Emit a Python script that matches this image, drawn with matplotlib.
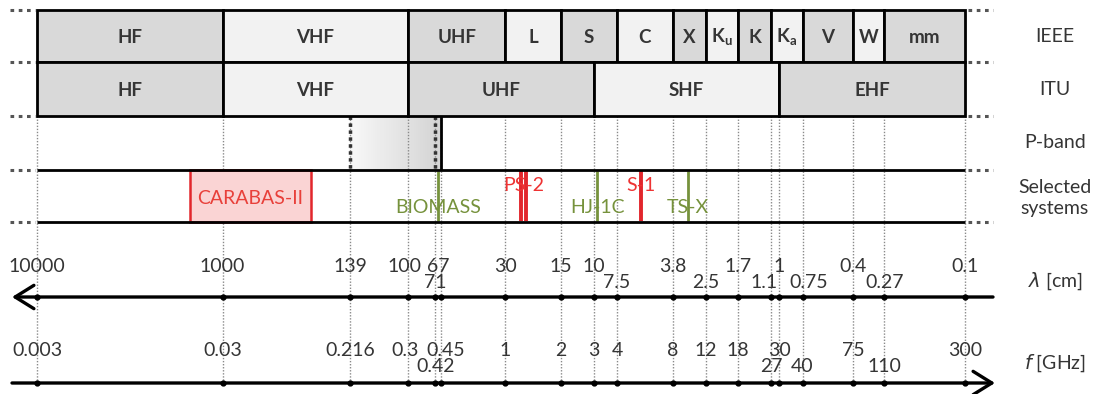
import matplotlib.pyplot as plt
import numpy as np
from matplotlib.patches import Rectangle
from matplotlib.transforms import blended_transform_factory

plt.rcParams['font.family'] = ['Lato', 'DejaVu Sans']

# band tables, edges in GHz
ieee_names = ['HF', 'VHF', 'UHF', 'L', 'S', 'C', 'X', r'K$_\mathregular{u}$', 'K',
              r'K$_\mathregular{a}$', 'V', 'W', 'mm']
ieee_edges = [0.003, 0.03, 0.3, 1, 2, 4, 8, 12, 18, 27, 40, 75, 110, 300]
itu_names = ['HF', 'VHF', 'UHF', 'SHF', 'EHF']
itu_edges = [0.003, 0.03, 0.3, 3, 30, 300]

# axis ticks (GHz, where the original draws them) and their labels
tick_freq = [0.003, 0.03, 0.146, 0.3, 0.42, 0.45, 1, 2, 3, 4, 8, 12, 18, 27, 30, 40, 75, 110, 300]
f_labels = ['0.003', '0.03', '0.216', '0.3', '0.42', '0.45', '1', '2', '3', '4', '8', '12',
            '18', '27', '30', '40', '75', '110', '300']
f_lower = [0, 0, 0, 0, 1, 0, 0, 0, 0, 0, 0, 0, 0, 1, 0, 1, 0, 1, 0]
lam_labels = ['10000', '1000', '139', '100', '71', '67', '30', '15', '10', '7.5', '3.8', '2.5',
              '1.7', '1.1', '1', '0.75', '0.4', '0.27', '0.1']
lam_lower = [0, 0, 0, 0, 1, 0, 0, 0, 0, 1, 0, 1, 0, 1, 0, 1, 0, 1, 0]
# small sideways nudges (pixels) so crowded labels do not touch
f_nudge = {'0.3': -3, '0.45': 5, '0.42': 0}
lam_nudge = {'100': -4, '67': -3, '1.1': -7, '0.75': 6}

# P-band: shaded span, dotted limits, solid limit
pband_span = [0.146, 0.45]
pband_dotted = [0.146, 0.42]
pband_solid = 0.45

# selected systems
carabas = [0.02, 0.09]
sys_names = ['BIOMASS', 'PS-2', 'HJ-1C', 'S-1', 'TS-X']
sys_freqs = [[0.435], [1.215, 1.3], [3.13], [5.405], [9.65]]
sys_kind = ['g', 'r', 'g', 'r', 'g']

GREEN = '#76923c'
RED = '#e2262c'
TXT = '#353535'
DARK = '#d9d9d9'
LIGHT = '#f2f2f2'

W, H = 1101, 394
PX0, PXDEC, F0 = 37, 185.6, 0.003
lo = F0 * 10 ** (-PX0 / PXDEC)
hi = F0 * 10 ** ((W - PX0) / PXDEC)

fig = plt.figure(figsize=(W / 100, H / 100), dpi=100)
ax = fig.add_axes([0, 0, 1, 1])
ax.set_xscale('log')
ax.set_xlim(lo, hi)
ax.set_ylim(H, 0)
ax.axis('off')
trans = blended_transform_factory(ax.transAxes, ax.transData)

rows = [10, 62, 116, 170, 222]
y_lam, y_f = 297, 383

# band rows
for names, edges, (y0, y1) in [(ieee_names, ieee_edges, (10, 62)), (itu_names, itu_edges, (62, 116))]:
    for i, name in enumerate(names):
        a, b = edges[i], edges[i + 1]
        ax.add_patch(Rectangle((a, y0), b - a, y1 - y0, facecolor=DARK if i % 2 == 0 else LIGHT,
                               edgecolor='black', lw=2, zorder=3))
        ax.text(np.sqrt(a * b), (y0 + y1) / 2 + 1, name, ha='center', va='center',
                fontsize=13.5, fontweight='bold', color=TXT, zorder=4)

# thin dotted verticals
ax.vlines(tick_freq, 116, y_f, colors='#8a8a8a', linestyles=(0, (1, 1.2)), lw=1, zorder=1)

# P-band gradient
steps = np.geomspace(pband_span[0], pband_span[1], 41)
shades = np.linspace(0.97, 0.83, 40)
for k in range(40):
    ax.add_patch(Rectangle((steps[k], 116), steps[k + 1] - steps[k], 54,
                           facecolor=str(shades[k]), edgecolor='none', zorder=0))
ax.vlines(pband_dotted, 116, 170, colors='#333333', linestyles=(0, (1, 1)), lw=2.5, zorder=2)
ax.vlines(pband_solid, 116, 170, colors='black', lw=2, zorder=2)

# horizontal row lines
ax.hlines([170, 222], ieee_edges[0], ieee_edges[-1], colors='black', lw=2, zorder=3)
for y in rows:
    ax.plot([10 / W, 35 / W], [y, y], transform=trans, color='#555555', lw=2.2,
            linestyle=(0, (1.2, 1.5)), zorder=3)
    ax.plot([968 / W, 993 / W], [y, y], transform=trans, color='#555555', lw=2.2,
            linestyle=(0, (1.2, 1.5)), zorder=3)

# selected systems
ax.add_patch(Rectangle((carabas[0], 170), carabas[1] - carabas[0], 52, facecolor='#fad4d4',
                       edgecolor=RED, lw=1.8, zorder=2))
ax.text(np.sqrt(carabas[0] * carabas[1]), 198, 'CARABAS-II', ha='center', va='center',
        fontsize=14, color='#e8403a', zorder=4)
for name, fr, kind in zip(sys_names, sys_freqs, sys_kind):
    col = GREEN if kind == 'g' else RED
    ax.vlines(fr, 171, 221, colors=col, lw=2 if kind == 'g' else 2.8, zorder=2)
    fc = np.exp(np.mean(np.log(fr)))
    ax.text(fc, 207 if kind == 'g' else 185, name, ha='center', va='center', fontsize=14,
            color=GREEN if kind == 'g' else '#ee3333', zorder=4)

# wavelength and frequency axes
arrow = dict(arrowstyle='->,head_length=0.45,head_width=0.28', lw=2.4, color='black',
             mutation_scale=30, shrinkA=0, shrinkB=0)
ax.annotate('', xy=(12 / W, y_lam), xytext=(993 / W, y_lam), xycoords=trans, textcoords=trans,
            arrowprops=arrow)
ax.annotate('', xy=(995 / W, y_f), xytext=(12 / W, y_f), xycoords=trans, textcoords=trans,
            arrowprops=arrow)
ax.plot(tick_freq, [y_lam] * len(tick_freq), 'o', ms=3.5, color='black', zorder=5)
ax.plot(tick_freq, [y_f] * len(tick_freq), 'o', ms=3.5, color='black', zorder=5)

for fr, lab, low in zip(tick_freq, lam_labels, lam_lower):
    ax.annotate(lab, (fr, 283 if low else 267), xytext=(lam_nudge.get(lab, 0), 0),
                textcoords='offset pixels', ha='center', va='center', fontsize=14, color=TXT)
for fr, lab, low in zip(tick_freq, f_labels, f_lower):
    ax.annotate(lab, (fr, 367 if low else 351), xytext=(f_nudge.get(lab, 0), 0),
                textcoords='offset pixels', ha='center', va='center', fontsize=14, color=TXT)

# right hand row labels
xr = 1055 / W
for y, lab in [(36, 'IEEE'), (89, 'ITU'), (142, 'P-band'), (198, 'Selected\nsystems'),
               (281, r'$\lambda$ [cm]'), (363, r'$f$ [GHz]')]:
    ax.text(xr, y, lab, transform=trans, ha='center', va='center', fontsize=14, color=TXT,
            linespacing=1.25)

fig.savefig('out.png', dpi=100)
